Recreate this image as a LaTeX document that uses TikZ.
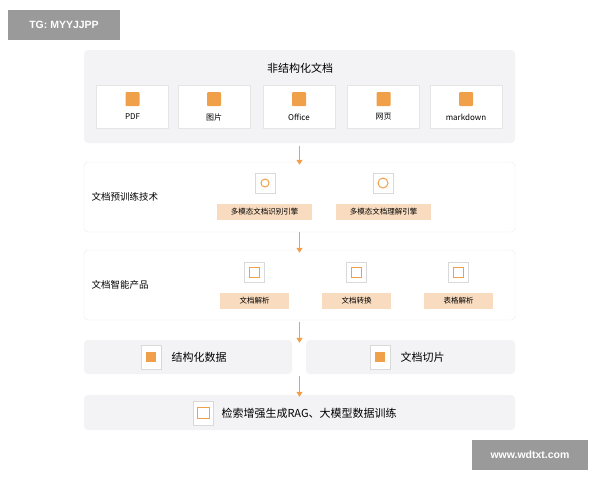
\documentclass[tikz,border=0pt]{standalone}
\usepackage{fontspec}
\setmainfont{Noto Sans CJK SC}
\setsansfont{Liberation Sans}
\usetikzlibrary{arrows.meta}
\definecolor{org}{HTML}{F0A048}
\definecolor{lorg}{HTML}{F9DCC0}
\definecolor{pan}{HTML}{F3F3F5}
\definecolor{gbox}{HTML}{9A9A9A}
\tikzset{
 panel/.style={fill=pan,rounded corners=4pt},
 wpanel/.style={fill=white,draw=black!8,rounded corners=4pt},
 card/.style={fill=white,draw=black!10,minimum width=72pt,minimum height=43pt,inner sep=0pt},
 ibox/.style={fill=white,draw=black!15,minimum width=20pt,minimum height=20pt,inner sep=0pt},
 tag/.style={fill=lorg,minimum height=16pt,inner sep=0pt,font=\fontsize{7.5}{9}\selectfont},
 flow/.style={org,line width=1.2pt,-{Triangle[length=5pt,width=6pt]}},
 mark2/.style={fill=gbox,text=white,minimum height=30pt,font=\sffamily\bfseries\fontsize{10.5}{12}\selectfont},
}
\begin{document}
\begin{tikzpicture}[x=1pt,y=-1pt]
\useasboundingbox (0,0) rectangle (600,480);
\fill[white] (0,0) rectangle (600,480);
\node[mark2,minimum width=112pt] (tg) at (64,25) {TG: MYYJJPP};
\node[mark2,minimum width=116pt] (wm) at (530,455) {www.wdtxt.com};
% panel 1
\node[panel,minimum width=431pt,minimum height=93pt] (p1) at (299.5,96.5) {};
\node[font=\fontsize{11}{13}\selectfont] (t1) at (300,68) {非结构化文档};
\foreach \x/\t [count=\i] in {132.5/PDF,214/图片,299/Office,383.5/网页,466/markdown}{
  \node[card] (c\i) at (\x,106.5) {};
  \node[font=\fontsize{8}{9}\selectfont] (cl\i) at (\x,117) {\t};
  \fill[org,rounded corners=1pt] (\x-7,92) rectangle (\x+7,106);
}
% panel 2
\node[wpanel,minimum width=431pt,minimum height=70pt] (p2) at (299.5,197) {};
\node[anchor=west,font=\fontsize{9.5}{11}\selectfont] (t2) at (88,197) {文档预训练技术};
\node[ibox] (i21) at (265,183) {}; \draw[org,line width=1pt] (265,183) circle (4pt);
\node[ibox] (i22) at (383,183) {}; \draw[org,line width=1pt] (383,183) circle (5pt);
\node[tag,minimum width=95pt] (g21) at (264.5,212) {多模态文档识别引擎};
\node[tag,minimum width=95pt] (g22) at (383.5,212) {多模态文档理解引擎};
% panel 3
\node[wpanel,minimum width=431pt,minimum height=70pt] (p3) at (299.5,285) {};
\node[anchor=west,font=\fontsize{9.5}{11}\selectfont] (t3) at (88,285) {文档智能产品};
\foreach \x/\t [count=\i] in {254.5/文档解析,356.5/文档转换,458.5/表格解析}{
  \node[ibox] (i3\i) at (\x,272) {};
  \draw[org,line width=1pt] (\x-5,267) rectangle (\x+5,277);
  \node[tag,minimum width=69pt] (g3\i) at (\x,300.5) {\t};
}
% panel 4
\node[panel,minimum width=208pt,minimum height=34pt] (p4a) at (188,357) {};
\node[panel,minimum width=209pt,minimum height=34pt] (p4b) at (410.5,357) {};
\node[ibox,minimum height=24pt] (i4a) at (151,357) {}; \fill[org] (146,352) rectangle (156,362);
\node[anchor=west,font=\fontsize{11}{13}\selectfont] (t4a) at (168,357) {结构化数据};
\node[ibox,minimum height=24pt] (i4b) at (380,357) {}; \fill[org] (375,352) rectangle (385,362);
\node[anchor=west,font=\fontsize{11}{13}\selectfont] (t4b) at (397,357) {文档切片};
% panel 5
\node[panel,minimum width=431pt,minimum height=35pt] (p5) at (299.5,412.5) {};
\node[ibox,minimum height=24pt] (i5) at (203,413) {}; \draw[org,line width=1pt] (197,407) rectangle (209,418);
\node[anchor=west,font=\fontsize{11}{13}\selectfont] (t5) at (218,413) {检索增强生成RAG、大模型数据训练};
% arrows
\draw[flow] (p1.south) ++(0,3) -- ([yshift=-3pt]p2.north);
\draw[flow] (p2.south) -- ([yshift=-3pt]p3.north);
\draw[flow] (p3.south) ++(0,2) -- ([yshift=-3pt]p4a.north -| p3.south);
\draw[flow] (p4a.south -| p3.south) ++(0,2) -- ([yshift=-2pt]p5.north);
\end{tikzpicture}
\end{document}
